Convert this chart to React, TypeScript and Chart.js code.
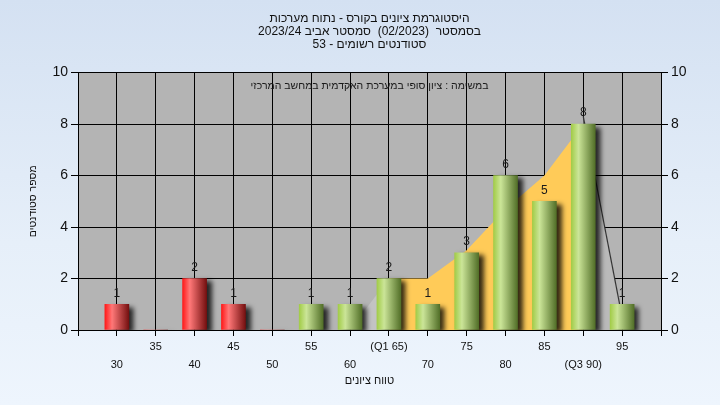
import React, { useEffect, useRef } from 'react';
import { Chart, registerables } from 'chart.js';

Chart.register(...registerables);

// ---- data ----
const scoreBins = [30, 35, 40, 45, 50, 55, 60, 65, 70, 75, 80, 85, 90, 95];
const studentCounts = [1, 0, 2, 1, 0, 1, 1, 2, 1, 3, 6, 5, 8, 1];
const failThreshold = 55;
const quartileLabels: Record<number, string> = { 65: '(Q1 65)', 90: '(Q3 90)' };
const quartileAreaX = [65, 70, 75, 80, 85, 90];
const quartileAreaY = [2, 2, 3.1, 4.7, 6, 8];
const leftTailX = [60, 65];
const leftTailY = [0, 2];
const rightTailX = [90, 95];
const rightTailY = [8.3, 0.5];
const titleLines = [
  'היסטוגרמת ציונים בקורס - נתוח מערכות',
  'בסמסטר  (02/2023)  סמסטר אביב 2023/24',
  'סטודנטים רשומים - 53',
];
const yAxisTitle = 'מספר סטודנטים';
const xAxisTitle = 'טווח ציונים';
const noteText = 'במשימה : ציון סופי במערכת האקדמית במחשב המרכזי';

const FONT = '"Liberation Sans", Arial, "DejaVu Sans", sans-serif';

const toPoints = (xs: number[], ys: number[]) => xs.map((x, i) => ({ x, y: ys[i] }));

const plotBackground = {
  id: 'plotBackground',
  beforeDraw(chart: any) {
    const { ctx, chartArea: a } = chart;
    ctx.save();
    ctx.fillStyle = '#b4b4b4';
    ctx.fillRect(a.left, a.top, a.right - a.left, a.bottom - a.top);
    ctx.restore();
  },
};

const barShadow = {
  id: 'barShadow',
  beforeDatasetDraw(chart: any, args: any) {
    if (args.meta.type !== 'bar') return;
    const c = chart.ctx;
    c.save();
    c.shadowColor = 'rgba(0,0,0,0.8)';
    c.shadowBlur = 5;
    c.shadowOffsetX = 5;
    c.shadowOffsetY = 3;
  },
  afterDatasetDraw(chart: any, args: any) {
    if (args.meta.type !== 'bar') return;
    chart.ctx.restore();
  },
};

const valueLabels = {
  id: 'valueLabels',
  afterDatasetsDraw(chart: any) {
    const ctx = chart.ctx;
    const meta = chart.getDatasetMeta(0);
    ctx.save();
    ctx.font = `12px ${FONT}`;
    ctx.textAlign = 'center';
    ctx.textBaseline = 'middle';
    ctx.fillStyle = '#1a1a1a';
    meta.data.forEach((el: any, i: number) => {
      const v = studentCounts[i];
      if (!v) return;
      ctx.fillText(String(v), el.x, el.y - 11);
    });
    ctx.restore();
  },
};

const noteLabel = {
  id: 'noteLabel',
  afterDraw(chart: any) {
    const { ctx, chartArea: a } = chart;
    ctx.save();
    ctx.font = `10.5px ${FONT}`;
    ctx.direction = 'rtl';
    ctx.textAlign = 'center';
    ctx.textBaseline = 'middle';
    ctx.fillStyle = '#1a1a1a';
    ctx.fillText(noteText, (a.left + a.right) / 2, a.top + 14);
    ctx.restore();
  },
};

function barGradient(c: any) {
  const chart = c.chart;
  const xs = chart.scales && chart.scales.x;
  const raw = c.raw;
  const fail = raw && raw.x < failThreshold;
  const fallback = fail ? '#e02020' : '#8fb840';
  if (!xs || !raw) return fallback;
  const cx = xs.getPixelForValue(raw.x);
  if (!Number.isFinite(cx)) return fallback;
  const g = chart.ctx.createLinearGradient(cx - 12, 0, cx + 12, 0);
  if (fail) {
    g.addColorStop(0, '#ff1a1a');
    g.addColorStop(0.3, '#ff7878');
    g.addColorStop(1, '#751010');
  } else {
    g.addColorStop(0, '#a2cc48');
    g.addColorStop(0.3, '#cbe598');
    g.addColorStop(1, '#526f28');
  }
  return g;
}

export default function App() {
  const ref = useRef<HTMLCanvasElement | null>(null);

  useEffect(() => {
    document.body.style.margin = '0';
    const canvas = ref.current!;
    const chart = new Chart(canvas, {
      type: 'bar',
      data: {
        datasets: [
          {
            type: 'bar',
            data: toPoints(scoreBins, studentCounts),
            backgroundColor: barGradient,
            borderWidth: 0,
            barThickness: 24,
            order: 0,
          } as any,
          {
            type: 'line',
            data: toPoints(quartileAreaX, quartileAreaY),
            fill: 'origin',
            backgroundColor: '#ffcb58',
            borderWidth: 0,
            borderColor: 'rgba(0,0,0,0)',
            pointRadius: 0,
            tension: 0,
            order: 1,
          },
          {
            type: 'line',
            data: toPoints(leftTailX, leftTailY),
            fill: 'origin',
            backgroundColor: '#c3c3c3',
            borderWidth: 0,
            borderColor: 'rgba(0,0,0,0)',
            pointRadius: 0,
            tension: 0,
            order: 1,
          },
          {
            type: 'line',
            data: toPoints(rightTailX, rightTailY),
            fill: 'origin',
            backgroundColor: '#bababa',
            borderWidth: 1.2,
            borderColor: '#333333',
            pointRadius: 0,
            tension: 0,
            order: 1,
          },
        ],
      },
      options: {
        animation: false,
        responsive: false,
        devicePixelRatio: 1,
        events: [],
        plugins: {
          legend: { display: false },
          tooltip: { enabled: false },
          title: {
            display: true,
            text: titleLines,
            fullSize: false,
            color: '#111',
            font: { family: FONT, size: 12, weight: 'normal', lineHeight: 1.1 },
            padding: { top: 12, bottom: 21 },
          },
        },
        scales: {
          x: {
            type: 'linear',
            min: 25,
            max: 100,
            offset: false,
            grid: {
              offset: false,
              color: '#000',
              lineWidth: 1,
              tickLength: 6,
              tickColor: '#000',
            },
            border: { color: '#000', width: 1 },
            ticks: {
              stepSize: 5,
              autoSkip: false,
              maxRotation: 0,
              padding: 2,
              color: '#111',
              font: { family: FONT, size: 11, lineHeight: 1.65 },
              callback: (value: any) => {
                const v = Number(value);
                if (v < 30 || v > 95) return '';
                const label = quartileLabels[v] ?? String(v);
                const idx = Math.round((v - 30) / 5);
                return idx % 2 === 0 ? ['', label] : [label, ''];
              },
            },
            title: {
              display: true,
              text: xAxisTitle,
              color: '#111',
              font: { family: FONT, size: 11 },
              padding: { top: 0, bottom: 17 },
            },
            afterFit: (s: any) => {
              s.height = 75;
            },
          } as any,
          y: {
            position: 'left',
            min: 0,
            max: 10,
            grid: { color: '#000', lineWidth: 1, tickLength: 7, tickColor: '#000' },
            border: { color: '#000', width: 1 },
            ticks: {
              stepSize: 2,
              padding: 3,
              color: '#111',
              font: { family: FONT, size: 14 },
            },
            title: {
              display: true,
              text: yAxisTitle,
              color: '#111',
              font: { family: FONT, size: 10.5 },
              padding: { top: 27, bottom: 0 },
            },
            afterFit: (s: any) => {
              s.width = 78;
            },
          } as any,
          y2: {
            position: 'right',
            min: 0,
            max: 10,
            grid: { drawOnChartArea: false, tickLength: 7, tickColor: '#000', color: '#000' },
            border: { color: '#000', width: 1 },
            ticks: {
              stepSize: 2,
              padding: 3,
              color: '#111',
              font: { family: FONT, size: 14 },
            },
            afterFit: (s: any) => {
              s.width = 59;
            },
          } as any,
        },
      },
      plugins: [plotBackground, barShadow, valueLabels, noteLabel],
    });
    chart.update();
    return () => chart.destroy();
  }, []);

  return (
    <div
      style={{
        position: 'fixed',
        left: 0,
        top: 0,
        width: 720,
        height: 405,
        background: 'linear-gradient(to bottom, #d4e1f2 0%, #e6eff9 60%, #eef5fd 100%)',
      }}
    >
      <canvas ref={ref} width={720} height={405} dir="rtl" style={{ display: 'block', width: 720, height: 405 }} />
    </div>
  );
}
